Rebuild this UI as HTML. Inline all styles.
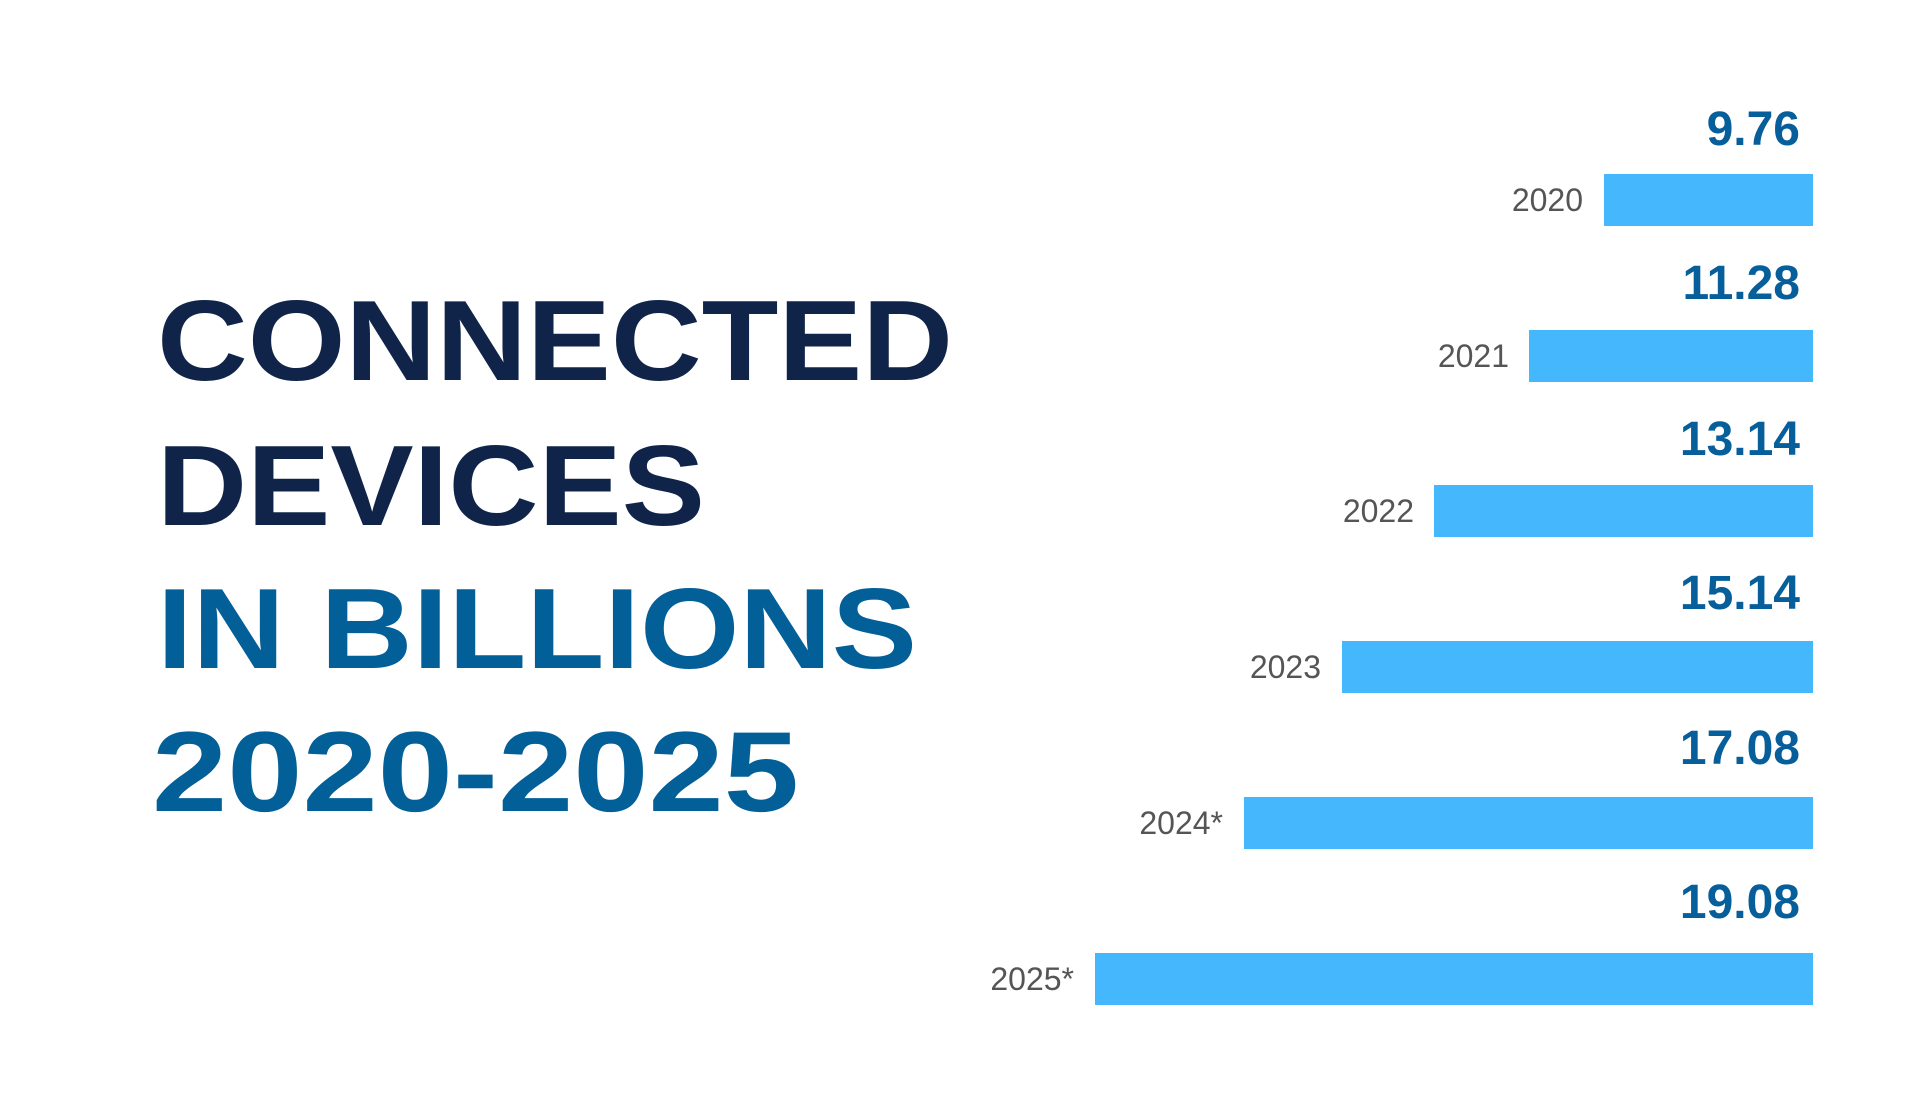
<!DOCTYPE html>
<html><head><style>html,body{margin:0;padding:0;background:#fff;}svg{display:block}</style></head>
<body>
<svg width="1920" height="1106" viewBox="0 0 1920 1106" xmlns="http://www.w3.org/2000/svg">
<rect width="1920" height="1106" fill="#fff"/>
<g font-family="Liberation Sans, sans-serif" font-weight="bold" font-size="114">
<text x="157" y="380" fill="#10244a" textLength="796" lengthAdjust="spacingAndGlyphs">CONNECTED</text>
<text x="157" y="525" fill="#10244a" textLength="548" lengthAdjust="spacingAndGlyphs">DEVICES</text>
<text x="157" y="668" fill="#025f98" textLength="760" lengthAdjust="spacingAndGlyphs">IN BILLIONS</text>
<text x="152" y="811" fill="#025f98" textLength="647" lengthAdjust="spacingAndGlyphs">2020-2025</text>
</g>
<g fill="#45b8fd">
<rect x="1604" y="174" width="209" height="52"/>
<rect x="1529" y="330" width="284" height="52"/>
<rect x="1434" y="485" width="379" height="52"/>
<rect x="1342" y="641" width="471" height="52"/>
<rect x="1244" y="797" width="569" height="52"/>
<rect x="1095" y="953" width="718" height="52"/>
</g>
<g font-family="Liberation Sans, sans-serif" font-weight="bold" font-size="48" fill="#065e9a" text-anchor="end">
<text x="1800" y="145">9.76</text>
<text x="1800" y="299">11.28</text>
<text x="1800" y="455">13.14</text>
<text x="1800" y="609">15.14</text>
<text x="1800" y="764">17.08</text>
<text x="1800" y="918">19.08</text>
</g>
<g font-family="Liberation Sans, sans-serif" font-size="32" fill="#555" text-anchor="end">
<text x="1583" y="211">2020</text>
<text x="1509" y="367">2021</text>
<text x="1414" y="522">2022</text>
<text x="1321" y="678">2023</text>
<text x="1223" y="834">2024*</text>
<text x="1074" y="990">2025*</text>
</g>
</svg>
</body></html>
